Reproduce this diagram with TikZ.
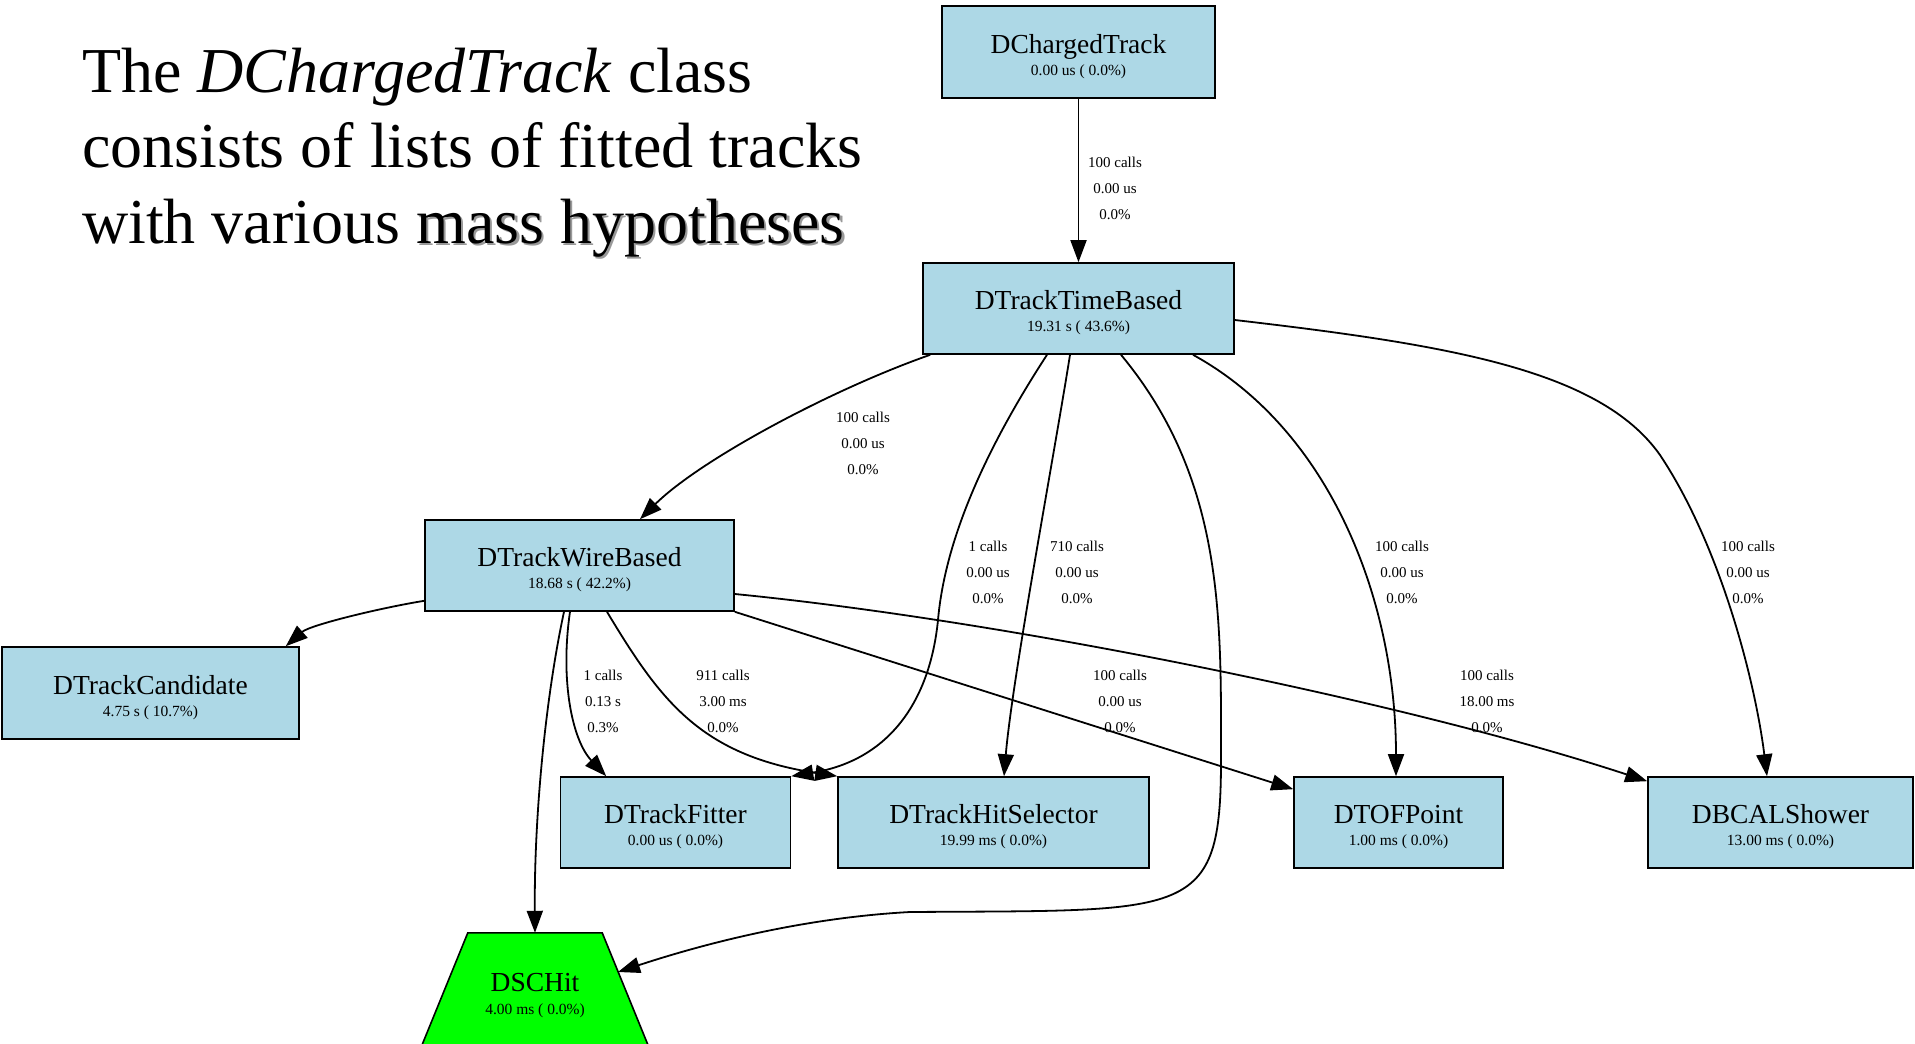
\documentclass[tikz,border=0pt]{standalone}
\usepackage{fontspec}
\setmainfont{Liberation Serif}
\usetikzlibrary{arrows.meta,shapes.geometric,calc}
\definecolor{gvblue}{RGB}{173,216,230}
\definecolor{gvgreen}{RGB}{0,255,0}
\newcommand\shtext[1]{\makebox[0pt][l]{\hspace{2.5pt}\raisebox{-2.5pt}{\textcolor{black!40}{#1}}}#1}
\begin{document}
\begin{tikzpicture}[x=1pt,y=-1pt,
  gvbox/.style={draw=black,line width=1.6pt,fill=gvblue,rectangle,inner sep=0pt,minimum height=91pt},
  maintxt/.style={anchor=base,inner sep=0pt,font=\fontsize{27.5}{30}\selectfont},
  subtxt/.style={anchor=base,inner sep=0pt,font=\fontsize{15.5}{17}\selectfont},
  elab/.style={align=center,inner sep=0pt,font=\fontsize{15}{26}\selectfont},
  gvedge/.style={line width=1.8pt,-{Triangle[length=22pt,width=16pt]}},
  titletxt/.style={anchor=base west,inner sep=0pt,font=\fontsize{64}{70}\selectfont}
]
\useasboundingbox (0,0) rectangle (1915,1044);
\clip (0,0) rectangle (1915,1044);

% title
\node[titletxt] (t1) at (82,92) {The \textit{DChargedTrack} class};
\node[titletxt] (t2) at (82,167) {consists of lists of fitted tracks};
\node[titletxt] (t3) at (82,243) {with various \shtext{mass hypotheses}};

% nodes
\node[gvbox,minimum width=273pt,minimum height=92pt] (DCT) at (1078.5,52) {};
\node[maintxt] (DCTa) at ($(DCT.center)+(0,1)$) {DChargedTrack};
\node[subtxt] (DCTb) at ($(DCT.center)+(0,23)$) {0.00 us ( 0.0\%)};

\node[gvbox,minimum width=311pt] (DTB) at (1078.5,308.5) {};
\node[maintxt] (DTBa) at ($(DTB.center)+(0,1)$) {DTrackTimeBased};
\node[subtxt] (DTBb) at ($(DTB.center)+(0,23)$) {19.31 s ( 43.6\%)};

\node[gvbox,minimum width=309pt] (DWB) at (579.5,565.5) {};
\node[maintxt] (DWBa) at ($(DWB.center)+(0,1)$) {DTrackWireBased};
\node[subtxt] (DWBb) at ($(DWB.center)+(0,23)$) {18.68 s ( 42.2\%)};

\node[gvbox,minimum width=297pt,minimum height=92pt] (DTC) at (150.5,693) {};
\node[maintxt] (DTCa) at ($(DTC.center)+(0,1)$) {DTrackCandidate};
\node[subtxt] (DTCb) at ($(DTC.center)+(0,23)$) {4.75 s ( 10.7\%)};

\node[gvbox,minimum width=230pt] (DTF) at (675.5,822.5) {};
\node[maintxt] (DTFa) at ($(DTF.center)+(0,1)$) {DTrackFitter};
\node[subtxt] (DTFb) at ($(DTF.center)+(0,23)$) {0.00 us ( 0.0\%)};

\node[gvbox,minimum width=311pt] (DTHS) at (993.5,822.5) {};
\node[maintxt] (DTHSa) at ($(DTHS.center)+(0,1)$) {DTrackHitSelector};
\node[subtxt] (DTHSb) at ($(DTHS.center)+(0,23)$) {19.99 ms ( 0.0\%)};

\node[gvbox,minimum width=209pt] (DTOF) at (1398.5,822.5) {};
\node[maintxt] (DTOFa) at ($(DTOF.center)+(0,1)$) {DTOFPoint};
\node[subtxt] (DTOFb) at ($(DTOF.center)+(0,23)$) {1.00 ms ( 0.0\%)};

\node[gvbox,minimum width=265pt] (DBCAL) at (1780.5,822.5) {};
\node[maintxt] (DBCALa) at ($(DBCAL.center)+(0,1)$) {DBCALShower};
\node[subtxt] (DBCALb) at ($(DBCAL.center)+(0,23)$) {13.00 ms ( 0.0\%)};

% DSCHit trapezium (cut by the lower edge of the picture)
\node[inner sep=0pt,minimum width=134pt,minimum height=127pt] (DSC) at (535,996.5) {};
\filldraw[draw=black,fill=gvgreen,line width=1.6pt,line join=miter]
  (DSC.north west) -- (DSC.north east) -- ($(DSC.south east)+(52,0)$) -- ($(DSC.south west)+(-52,0)$) -- cycle;
\node[maintxt] (DSCa) at ($(DSC.center)+(0,-5.5)$) {DSCHit};
\node[subtxt] (DSCb) at ($(DSC.center)+(0,17.5)$) {4.00 ms ( 0.0\%)};

% edges
\draw[gvedge] (DCT.south) -- (DTB.north);
\draw[gvedge] ($(DTB.south west)+(8,0)$) .. controls (830,390) and (700,460) .. ($(DWB.north)+(60.5,0)$);
\draw[gvedge] ($(DTB.south)+(-31.5,0)$) .. controls (985,450) and (945,540) .. (938,620)
   .. controls (930,700) and (890,760) .. (DTF.north east);
\draw[gvedge] ($(DTB.south)+(-8.5,0)$) .. controls (1055,450) and (1012,680) .. ($(DTHS.north)+(10.5,0)$);
\draw[gvedge] ($(DTB.south)+(42.5,0)$) .. controls (1225,480) and (1221,620) .. (1221,760)
   .. controls (1221,920) and (1190,910) .. (910,912)
   .. controls (800,918) and (700,945) .. ($(DSC.center)+(83,-24.5)$);
\draw[gvedge] ($(DTB.south)+(114.5,0)$) .. controls (1330,430) and (1396,600) .. ($(DTOF.north)+(-2.5,0)$);
\draw[gvedge] ($(DTB.east)+(0,11.5)$) .. controls (1450,345) and (1600,370) .. (1660,455)
   .. controls (1720,545) and (1755,680) .. ($(DBCAL.north)+(-13.5,0)$);
\draw[gvedge] ($(DWB.south west)+(0,-11)$) .. controls (380,608) and (310,625) .. ($(DTC.north east)+(-14,0)$);
\draw[gvedge] ($(DWB.south)+(-15.5,0)$) .. controls (545,700) and (534,820) .. (DSC.north);
\draw[gvedge] ($(DWB.south)+(-9.5,0)$) .. controls (560,680) and (572,740) .. ($(DTF.north west)+(46.5,0)$);
\draw[gvedge] ($(DWB.south)+(27.5,0)$) .. controls (660,700) and (700,755) .. (DTHS.north west);
\draw[gvedge] (DWB.south east) -- ($(DTOF.north west)+(0,13)$);
\draw[gvedge] ($(DWB.east)+(0,28.5)$) .. controls (1000,620) and (1400,700) .. ($(DBCAL.north west)+(0,5)$);

% edge labels
\node[elab] (lA) at (1115,188) {100 calls\\0.00 us\\0.0\%};
\node[elab] (lB) at (863,443) {100 calls\\0.00 us\\0.0\%};
\node[elab] (lC) at (988,572) {1 calls\\0.00 us\\0.0\%};
\node[elab] (lD) at (1077,572) {710 calls\\0.00 us\\0.0\%};
\node[elab] (lF) at (1402,572) {100 calls\\0.00 us\\0.0\%};
\node[elab] (lG) at (1748,572) {100 calls\\0.00 us\\0.0\%};
\node[elab] (lJ) at (603,701) {1 calls\\0.13 s\\0.3\%};
\node[elab] (lK) at (723,701) {911 calls\\3.00 ms\\0.0\%};
\node[elab] (lL) at (1120,701) {100 calls\\0.00 us\\0.0\%};
\node[elab] (lM) at (1487,701) {100 calls\\18.00 ms\\0.0\%};
\end{tikzpicture}
\end{document}
